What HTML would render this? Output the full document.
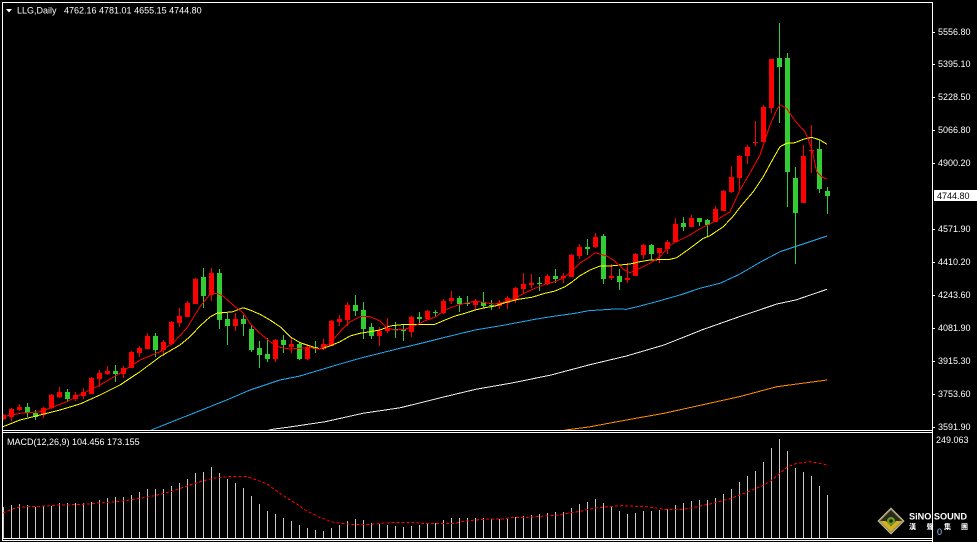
<!DOCTYPE html>
<html><head><meta charset="utf-8"><style>
html,body{margin:0;padding:0;background:#000;width:977px;height:542px;overflow:hidden}
svg{display:block}
text{font-family:"Liberation Sans","Noto Sans CJK SC",sans-serif;font-size:9px;fill:#fff}
</style></head><body>
<svg width="977" height="542" viewBox="0 0 977 542" xmlns="http://www.w3.org/2000/svg">
<defs>
<clipPath id="cm"><rect x="3" y="3" width="929" height="427"/></clipPath>
<clipPath id="cd"><rect x="3" y="433" width="929" height="105"/></clipPath>
</defs>
<rect width="977" height="542" fill="#000"/>

<g clip-path="url(#cm)" shape-rendering="crispEdges">
<path fill="#ff0000" d="M1 415h5v4h-5zM3 414h1v6h-1zM9 409h5v8h-5zM11 408h1v13h-1zM17 407h5v3h-5zM19 404h1v7h-1zM41 408h5v7h-5zM43 407h1v11h-1zM49 395h5v13h-5zM51 394h1v15h-1zM57 392h5v5h-5zM59 387h1v11h-1zM73 395h5v4h-5zM75 392h1v9h-1zM81 392h5v4h-5zM83 388h1v11h-1zM89 378h5v16h-5zM91 377h1v17h-1zM97 373h5v6h-5zM99 370h1v17h-1zM105 371h5v3h-5zM107 366h1v9h-1zM121 368h5v6h-5zM123 366h1v12h-1zM129 352h5v16h-5zM131 351h1v17h-1zM137 348h5v5h-5zM139 346h1v11h-1zM145 336h5v13h-5zM147 333h1v16h-1zM161 342h5v8h-5zM163 340h1v16h-1zM169 322h5v22h-5zM171 321h1v24h-1zM177 316h5v7h-5zM179 308h1v19h-1zM185 303h5v14h-5zM187 301h1v16h-1zM193 279h5v25h-5zM195 278h1v26h-1zM209 273h5v22h-5zM211 268h1v33h-1zM233 319h5v7h-5zM235 313h1v18h-1zM273 340h5v19h-5zM275 339h1v23h-1zM289 344h5v3h-5zM291 337h1v16h-1zM305 347h5v12h-5zM307 345h1v15h-1zM321 344h5v5h-5zM323 339h1v11h-1zM329 321h5v25h-5zM331 320h1v26h-1zM337 319h5v3h-5zM339 315h1v11h-1zM345 305h5v15h-5zM347 302h1v24h-1zM377 331h5v5h-5zM379 327h1v19h-1zM385 328h5v3h-5zM387 318h1v15h-1zM409 317h5v15h-5zM411 316h1v21h-1zM425 311h5v8h-5zM427 310h1v10h-1zM441 301h5v12h-5zM443 299h1v15h-1zM449 298h5v3h-5zM451 291h1v13h-1zM473 301h5v4h-5zM475 299h1v11h-1zM497 303h5v3h-5zM499 300h1v9h-1zM505 298h5v5h-5zM507 296h1v13h-1zM513 288h5v12h-5zM515 287h1v16h-1zM521 284h5v5h-5zM523 273h1v21h-1zM529 283h5v2h-5zM531 274h1v14h-1zM545 276h5v8h-5zM547 274h1v11h-1zM561 276h5v2h-5zM563 273h1v10h-1zM569 255h5v22h-5zM571 254h1v23h-1zM577 247h5v9h-5zM579 244h1v15h-1zM593 237h5v10h-5zM595 233h1v15h-1zM609 276h5v2h-5zM611 264h1v16h-1zM625 278h5v2h-5zM627 263h1v20h-1zM633 254h5v22h-5zM635 253h1v23h-1zM641 245h5v10h-5zM643 244h1v15h-1zM657 248h5v5h-5zM659 248h1v15h-1zM665 242h5v7h-5zM667 240h1v14h-1zM673 224h5v18h-5zM675 218h1v24h-1zM689 218h5v9h-5zM691 215h1v12h-1zM713 209h5v13h-5zM715 206h1v16h-1zM721 191h5v20h-5zM723 190h1v21h-1zM729 177h5v15h-5zM731 166h1v27h-1zM737 156h5v22h-5zM739 155h1v35h-1zM745 147h5v9h-5zM747 145h1v19h-1zM753 142h5v1h-5zM755 121h1v25h-1zM761 107h5v35h-5zM763 105h1v37h-1zM769 59h5v49h-5zM771 59h1v54h-1zM801 156h5v47h-5zM803 145h1v58h-1zM809 150h5v1h-5zM811 125h1v48h-1z"/>
<path fill="#32cd32" d="M25 407h5v6h-5zM27 403h1v14h-1zM33 413h5v4h-5zM35 410h1v10h-1zM65 392h5v7h-5zM67 389h1v13h-1zM113 371h5v3h-5zM115 365h1v17h-1zM153 336h5v14h-5zM155 333h1v24h-1zM201 277h5v19h-5zM203 268h1v40h-1zM217 273h5v47h-5zM219 269h1v60h-1zM225 319h5v7h-5zM227 313h1v32h-1zM241 319h5v5h-5zM243 315h1v21h-1zM249 329h5v21h-5zM251 325h1v27h-1zM257 348h5v7h-5zM259 341h1v27h-1zM265 354h5v5h-5zM267 338h1v24h-1zM281 340h5v5h-5zM283 335h1v18h-1zM297 344h5v15h-5zM299 342h1v18h-1zM313 347h5v2h-5zM315 341h1v12h-1zM353 305h5v6h-5zM355 295h1v21h-1zM361 310h5v19h-5zM363 302h1v37h-1zM369 327h5v9h-5zM371 323h1v16h-1zM393 329h5v1h-5zM395 322h1v16h-1zM401 329h5v2h-5zM403 325h1v16h-1zM417 317h5v2h-5zM419 312h1v12h-1zM433 312h5v1h-5zM435 310h1v7h-1zM457 298h5v6h-5zM459 296h1v16h-1zM465 303h5v1h-5zM467 296h1v10h-1zM481 302h5v4h-5zM483 292h1v16h-1zM489 305h5v1h-5zM491 300h1v10h-1zM537 283h5v1h-5zM539 277h1v14h-1zM553 276h5v3h-5zM555 269h1v14h-1zM585 247h5v2h-5zM587 239h1v16h-1zM601 236h5v43h-5zM603 234h1v50h-1zM617 276h5v6h-5zM619 269h1v21h-1zM649 245h5v9h-5zM651 244h1v16h-1zM681 223h5v4h-5zM683 217h1v14h-1zM697 218h5v4h-5zM699 218h1v8h-1zM705 220h5v5h-5zM707 219h1v17h-1zM777 58h5v9h-5zM779 23h1v100h-1zM785 58h5v114h-5zM787 53h1v154h-1zM793 178h5v35h-5zM795 167h1v97h-1zM817 149h5v40h-5zM819 140h1v53h-1zM825 191h5v5h-5zM827 187h1v27h-1z"/>

<g fill="none" stroke-width="1">
<polyline stroke="#ff8c00" points="560,431 568,429.7 588.7,427 626.4,420 664,413.3 701.6,405 739.3,396.7 776.9,386.7 827,380"/>
<polyline stroke="#f0f0f0" points="265,431 272.6,429.3 287.6,427.3 325.3,421.7 362.9,413.3 400.5,407.7 438.2,398.3 475.8,389.3 513.5,382.7 551.1,375 588.7,365 626.4,356 664,345 701.6,330 739.3,316.7 776.9,304 795.7,300 827,289.3"/>
<polyline stroke="#1eaaf0" points="150,431 153,429.3 210,406.7 228.3,399.3 250,390 280,380 300,376 320,370 340,364 360,358.3 380,353.3 397,349 418.3,344 445,337.3 475,330 505,325 535,319.3 551,316.7 575,313.3 588.7,310.7 615,309 626.4,309.3 640,306 660,300.7 680,295 700,288.3 720,283.3 740,274 760,262.3 780,251.7 800,245 827,236"/>
<polyline stroke="#ffff00" points="3,426.7 20,420 40,415 60,410 80,404 100,395 120,385 140,371.7 160,356.7 180,345 190,336.7 200,326 210,317 216.7,313.3 233,311.7 243,307.7 250,310 260,314.3 270,320 280,326.7 290,336.7 300,342.7 310,346 320,349 330,346 340,341.7 350,336 360,333.3 370,331.7 380,330 390,326 405,324.3 435,324.3 445,320 455,316 465,313.3 475,310 485,307.7 495,306 505,302.7 518,299.3 531.7,297.3 545,293.3 555,291 565,286.7 572,282 580,275.7 590,270 600,266 610,266 620,265 630,264 640,261.7 650,260 670,259.3 676.7,257.7 690,248.3 703.3,238.3 710,235.7 723.3,226.7 733.3,216 741,206 753.3,191.7 763.3,176.7 773.3,158.3 780,146.7 786.7,143.3 795,142.7 803.3,139.3 811.7,137.3 820,140 827,144.3"/>
<polyline stroke="#ff0000" points="3,416.7 20,413.3 40,411.7 50,408.3 66.7,401.7 83.3,393.3 100,385 120,373.3 140,360 160,351.7 173.3,342.7 186.7,328.3 200,306.7 210,294.3 216.7,293.3 223,296 233,305 243,312.7 250,323.3 260,333.3 270,341.7 280,347.3 290,349 300,348.3 310,347.3 320,349.3 330,343.3 340,331.7 350,321.7 360,316.7 370,316.7 380,321 387,328 395,330 405,329.3 415,325.7 425,320.7 435,317.3 445,310 455,306 465,303.3 475,301 485,302.7 495,304 505,301.7 515,298.3 525,292.7 535,288.3 545,284.3 555,281.7 563,278 570,273 580,263 590,256.7 595,252.7 606.7,256 613.3,260 623.3,269.3 630,272.7 640,268.3 650,263.3 660,256.7 670,245 680,240 690,235 700,228.7 710,224 720,218 730,211.7 740,190 750,173 760,155 770,125 776.7,110 780,105 786.7,108.3 793.3,118.3 800,126.7 805,131.7 811.7,148.3 816.7,171.7 821.7,176.7 827,179.3"/>
</g>
</g>

<g clip-path="url(#cd)" shape-rendering="crispEdges">
<path fill="#c8c8c8" d="M3 507h1v31h-1zM11 505h1v33h-1zM19 504h1v34h-1zM27 505h1v33h-1zM35 507h1v31h-1zM43 506h1v32h-1zM51 506h1v32h-1zM59 503h1v35h-1zM67 503h1v35h-1zM75 503h1v35h-1zM83 503h1v35h-1zM91 502h1v36h-1zM99 500h1v38h-1zM107 498h1v40h-1zM115 497h1v41h-1zM123 497h1v41h-1zM131 495h1v43h-1zM139 492h1v46h-1zM147 489h1v49h-1zM155 489h1v49h-1zM163 489h1v49h-1zM171 486h1v52h-1zM179 483h1v55h-1zM187 479h1v59h-1zM195 473h1v65h-1zM203 472h1v66h-1zM211 467h1v71h-1zM219 473h1v65h-1zM227 479h1v59h-1zM235 483h1v55h-1zM243 488h1v50h-1zM251 496h1v42h-1zM259 504h1v34h-1zM267 511h1v27h-1zM275 514h1v24h-1zM283 518h1v20h-1zM291 521h1v17h-1zM299 525h1v13h-1zM307 528h1v10h-1zM315 530h1v8h-1zM323 531h1v7h-1zM331 528h1v10h-1zM339 525h1v13h-1zM347 521h1v17h-1zM355 519h1v19h-1zM363 520h1v18h-1zM371 523h1v15h-1zM379 524h1v14h-1zM387 525h1v13h-1zM395 526h1v12h-1zM403 527h1v11h-1zM411 526h1v12h-1zM419 525h1v13h-1zM427 524h1v14h-1zM435 523h1v15h-1zM443 520h1v18h-1zM451 518h1v20h-1zM459 518h1v20h-1zM467 518h1v20h-1zM475 518h1v20h-1zM483 518h1v20h-1zM491 519h1v19h-1zM499 519h1v19h-1zM507 518h1v20h-1zM515 517h1v21h-1zM523 516h1v22h-1zM531 515h1v23h-1zM539 514h1v24h-1zM547 513h1v25h-1zM555 512h1v26h-1zM563 512h1v26h-1zM571 508h1v30h-1zM579 504h1v34h-1zM587 502h1v36h-1zM595 499h1v39h-1zM603 503h1v35h-1zM611 507h1v31h-1zM619 511h1v27h-1zM627 514h1v24h-1zM635 513h1v25h-1zM643 511h1v27h-1zM651 511h1v27h-1zM659 510h1v28h-1zM667 509h1v29h-1zM675 505h1v33h-1zM683 503h1v35h-1zM691 501h1v37h-1zM699 500h1v38h-1zM707 500h1v38h-1zM715 498h1v40h-1zM723 494h1v44h-1zM731 489h1v49h-1zM739 482h1v56h-1zM747 476h1v62h-1zM755 471h1v67h-1zM763 462h1v76h-1zM771 448h1v90h-1zM779 439h1v99h-1zM787 451h1v87h-1zM795 468h1v70h-1zM803 472h1v66h-1zM811 476h1v62h-1zM819 486h1v52h-1zM827 495h1v43h-1z"/>
<polyline fill="none" stroke="#ff0000" stroke-width="1" stroke-dasharray="3,2" points="3,513 12,509 20,507 30,506.5 40,506.3 50,505.7 60,505 80,504.5 100,503 115,501.7 130,500 153,496 173,491 187,486 200,481.7 213,478.3 227,476.7 247,476.7 257,480 267,484 280,493.3 290,500 297,504 305,510 311.7,513.3 318,516.7 325,519.3 331.7,522 341.7,523.3 352,524.3 372,524.3 381.7,523.3 395,522.3 415,522.3 422,523.7 435,523.7 445,523.3 455,523.3 461.7,521.7 475,520 488,519 502,519 515,517.3 528,517.3 541.7,516.3 555,515.3 568,513.3 581.7,511 595,508 608,506.7 621.7,505.7 635,506.3 645,506.3 655,508 665,509.3 682,509.3 691.7,508 700,506 710,504 720,501.3 730,498.7 740,495 750,491 760,486.7 770,481.7 780,473.3 786.7,467.3 796.7,463.3 810,461.7 820,463.3 827,465"/>
</g>

<g fill="#fff" shape-rendering="crispEdges">
<rect x="2" y="2" width="931" height="1"/>
<rect x="2" y="2" width="1" height="539"/>
<rect x="932" y="2" width="1" height="540"/>
<rect x="2" y="430" width="931" height="1"/>
<rect x="2" y="432" width="931" height="1"/>
<rect x="2" y="538" width="931" height="1"/>
<rect x="2" y="540" width="931" height="1"/>
<rect x="933" y="32" width="2" height="1"/>
<rect x="933" y="64" width="2" height="1"/>
<rect x="933" y="97" width="2" height="1"/>
<rect x="933" y="130" width="2" height="1"/>
<rect x="933" y="163" width="2" height="1"/>
<rect x="933" y="229" width="2" height="1"/>
<rect x="933" y="262" width="2" height="1"/>
<rect x="933" y="295" width="2" height="1"/>
<rect x="933" y="328" width="2" height="1"/>
<rect x="933" y="361" width="2" height="1"/>
<rect x="933" y="394" width="2" height="1"/>
<rect x="933" y="427" width="2" height="1"/>
</g>

<polygon points="6,9 12,9 9,12.5" fill="#fff"/>
<text x="17" y="13.5">LLG,Daily</text>
<text x="64" y="13.5">4762.16 4781.01 4655.15 4744.80</text>

<text x="938" y="35">5556.80</text>
<text x="938" y="67">5395.10</text>
<text x="938" y="100">5228.50</text>
<text x="938" y="133">5066.80</text>
<text x="938" y="166">4900.20</text>
<rect x="934" y="190" width="43" height="11" fill="#fff"/>
<text x="937" y="199" style="fill:#000">4744.80</text>
<text x="938" y="232">4571.90</text>
<text x="938" y="265">4410.20</text>
<text x="938" y="298">4243.60</text>
<text x="938" y="331">4081.90</text>
<text x="938" y="364">3915.30</text>
<text x="938" y="397">3753.60</text>
<text x="938" y="430">3591.90</text>

<text x="7" y="445">MACD(12,26,9) 104.456 173.155</text>
<text x="936" y="443">249.063</text>

<g>
<polygon points="891,508 904,521 891,534 878,521" fill="#9a9270" stroke="#c8c0a0" stroke-width="0.8"/>
<polygon points="891,510 902,521 891,532 880,521" fill="#2a2a18"/>
<polygon points="880,521 891,532 902,521 896,521 891,526 886,521" fill="#d4b020"/>
<circle cx="891" cy="521" r="4" fill="#6a9a20"/>
<circle cx="891" cy="521" r="1.8" fill="#1a2a08"/>
</g>
<text x="909" y="519.5" textLength="58" lengthAdjust="spacingAndGlyphs" style="font-weight:bold;font-size:9px">SiNO SOUND</text>
<text x="909" y="529" style="font-size:7px;font-weight:bold">漢</text>
<text x="926.5" y="529" style="font-size:7px;font-weight:bold">聲</text>
<text x="944" y="529" style="font-size:7px;font-weight:bold">集</text>
<text x="961" y="529" style="font-size:7px;font-weight:bold">團</text>
<text x="937" y="535" style="fill:#9cd0ff">0</text>
</svg>
</body></html>
